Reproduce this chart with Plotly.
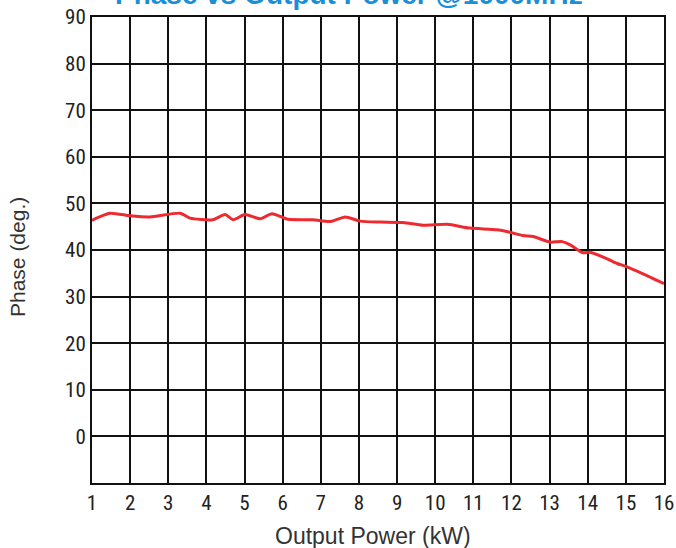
import plotly.graph_objects as go

power_kw = [1.0, 1.03, 1.47, 2.0, 2.52, 3.31, 3.57, 4.17, 4.49, 4.70, 5.01, 5.41, 5.72, 6.14,
            6.80, 7.24, 7.64, 8.03, 8.55, 9.16, 9.68, 10.31, 10.91, 11.62, 11.96, 12.30,
            12.57, 13.01, 13.33, 13.54, 13.88, 14.06, 14.51, 14.77, 15.03, 15.45, 16.0]
phase_deg = [46.3, 46.5, 47.9, 47.35, 47.1, 47.9, 46.85, 46.5, 47.6, 46.5, 47.6, 46.7, 47.8, 46.6,
             46.5, 46.1, 47.1, 46.2, 46.0, 45.9, 45.3, 45.5, 44.7, 44.35, 43.8, 43.1,
             42.9, 41.7, 41.8, 41.1, 39.4, 39.5, 38.1, 37.1, 36.4, 34.9, 32.8]

x_ticks = list(range(1, 17))
y_ticks = list(range(0, 100, 10))

title_text = "Phase vs Output Power @1000MHz"
x_title = "Output Power (kW)"
y_title = "Phase (deg.)"

tick_font = dict(family="Liberation Sans Narrow, Roboto Condensed, Arial Narrow, sans-serif", size=21, color="#222")
label_font = "Liberation Sans, Arial, sans-serif"

L, R, T, B = 92, 664, 17, 483
PW, PH = R - L, B - T

fig = go.Figure()
fig.add_trace(go.Scatter(x=power_kw, y=phase_deg, mode="lines",
                         line=dict(color="#ec2a2f", width=3, shape="spline", smoothing=0.6),
                         showlegend=False, hoverinfo="skip"))

fig.update_layout(
    width=676, height=548,
    margin=dict(l=L, r=676 - R, t=T, b=548 - B),
    paper_bgcolor="white", plot_bgcolor="white",
    xaxis=dict(range=[1, 16], tickvals=x_ticks, ticktext=[str(v) for v in x_ticks],
               showgrid=True, gridcolor="#111", gridwidth=1.5,
               showline=True, linecolor="#111", linewidth=2, mirror=True,
               ticks="", tickfont=tick_font, zeroline=False, automargin=False),
    yaxis=dict(range=[-10, 90], tickvals=y_ticks, ticktext=[str(v) for v in y_ticks],
               showgrid=True, gridcolor="#111", gridwidth=1.5,
               showline=True, linecolor="#111", linewidth=2, mirror=True,
               ticks="", tickfont=tick_font, zeroline=False, automargin=False),
    annotations=[
        dict(text="<b>" + title_text + "</b>", xref="paper", yref="paper",
             x=(349 - L) / PW, y=1, xanchor="center", yanchor="bottom", yshift=5,
             showarrow=False, font=dict(family=label_font, size=28, color="#1a8fd6")),
        dict(text=x_title, xref="paper", yref="paper",
             x=(372.5 - L) / PW, y=0, xanchor="center", yanchor="middle", yshift=-(536 - B),
             showarrow=False, font=dict(family=label_font, size=23, color="#333")),
        dict(text=y_title, xref="paper", yref="paper", textangle=-90,
             x=0, y=(B - 257.5) / PH, xanchor="center", yanchor="middle", xshift=-(L - 17.5),
             showarrow=False, font=dict(family=label_font, size=21, color="#333")),
    ],
)

fig.write_html("out.html")
